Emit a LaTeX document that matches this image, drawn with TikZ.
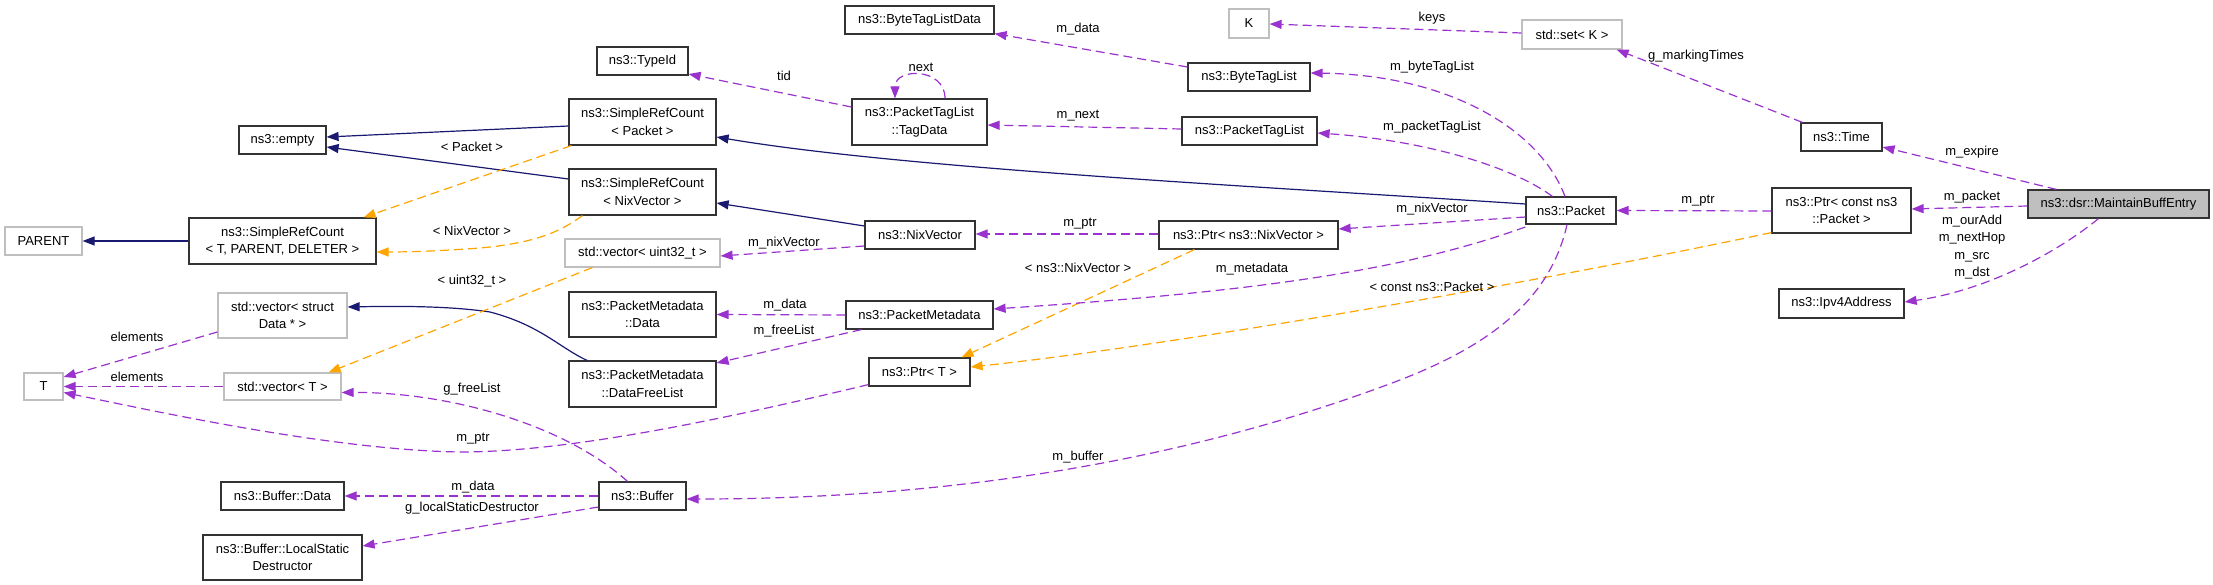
\documentclass[tikz,border=0pt]{standalone}
\usepackage{fontspec}
\setmainfont{Liberation Sans}
\usetikzlibrary{arrows.meta}
\definecolor{edgepurple}{HTML}{9A32CD}
\definecolor{edgeorange}{HTML}{FFA500}
\definecolor{edgeblue}{HTML}{191970}
\definecolor{boxgray}{HTML}{BFBFBF}
\begin{document}
\begin{tikzpicture}[x=1pt,y=-1pt,
  font=\fontsize{13}{17.3}\selectfont,
  cls/.style={draw=black!80, line width=1.2pt, inner sep=0pt, align=center, fill=white},
  undoc/.style={cls, draw=boxgray},
  cur/.style={cls, fill=boxgray},
  lab/.style={inner sep=0pt, align=center},
  tipA/.style={-{Triangle[length=12pt,width=9pt]}},
  usage/.style={draw=edgepurple, dash pattern=on 9pt off 5pt, line width=1.2pt, tipA},
  tmpl/.style={draw=edgeorange, dash pattern=on 9pt off 5pt, line width=1.2pt, tipA},
  inherit/.style={draw=edgeblue, line width=1.2pt, tipA}]
\useasboundingbox (0,0) rectangle (2213,585);

% ---- nodes ----
\node[undoc, minimum width=77pt, minimum height=28pt] (parent) at (43.5,241) {PARENT};
\node[cls, minimum width=87pt, minimum height=28pt] (empty) at (282.5,140) {ns3::empty};
\node[cls, minimum width=187pt, minimum height=46pt] (srcTPD) at (282.5,241) {ns3::SimpleRefCount\\< T, PARENT, DELETER >};
\node[undoc, minimum width=39pt, minimum height=27pt] (T) at (43.5,386.5) {T};
\node[undoc, minimum width=129pt, minimum height=45pt] (vecData) at (282.5,315.5) {std::vector< struct\\Data * >};
\node[undoc, minimum width=117pt, minimum height=27pt] (vecT) at (282.5,386.5) {std::vector< T >};
\node[cls, minimum width=123pt, minimum height=28pt] (bufData) at (282.5,496) {ns3::Buffer::Data};
\node[cls, minimum width=159pt, minimum height=45pt] (bufLSD) at (282.5,557.5) {ns3::Buffer::LocalStatic\\Destructor};
\node[cls, minimum width=91pt, minimum height=28pt] (typeId) at (642.5,61) {ns3::TypeId};
\node[cls, minimum width=147pt, minimum height=46pt] (srcPacket) at (642.5,122) {ns3::SimpleRefCount\\< Packet >};
\node[cls, minimum width=147pt, minimum height=46pt] (srcNix) at (642.5,192) {ns3::SimpleRefCount\\< NixVector >};
\node[undoc, minimum width=155pt, minimum height=28pt] (vecU32) at (642.5,253) {std::vector< uint32\_t >};
\node[cls, minimum width=147pt, minimum height=45pt] (pmData) at (642.5,314.5) {ns3::PacketMetadata\\::Data};
\node[cls, minimum width=147pt, minimum height=46pt] (pmDFL) at (642.5,384) {ns3::PacketMetadata\\::DataFreeList};
\node[cls, minimum width=87pt, minimum height=28pt] (buffer) at (642.5,496) {ns3::Buffer};
\node[cls, minimum width=149pt, minimum height=28pt] (btlData) at (919.5,20) {ns3::ByteTagListData};
\node[cls, minimum width=135pt, minimum height=46pt] (tagData) at (919.5,122) {ns3::PacketTagList\\::TagData};
\node[cls, minimum width=110pt, minimum height=28pt] (nixVector) at (920,235) {ns3::NixVector};
\node[cls, minimum width=147pt, minimum height=28pt] (pktMeta) at (919.5,315) {ns3::PacketMetadata};
\node[cls, minimum width=101pt, minimum height=28pt] (ptrT) at (919.5,372) {ns3::Ptr< T >};
\node[cls, minimum width=122pt, minimum height=28pt] (byteTL) at (1249,77) {ns3::ByteTagList};
\node[cls, minimum width=135pt, minimum height=28pt] (pktTL) at (1249.5,131) {ns3::PacketTagList};
\node[cls, minimum width=179pt, minimum height=28pt] (ptrNix) at (1248.5,235) {ns3::Ptr< ns3::NixVector >};
\node[undoc, minimum width=40pt, minimum height=29pt] (K) at (1249,23.5) {K};
\node[undoc, minimum width=100pt, minimum height=29pt] (setK) at (1572,34.5) {std::set< K >};
\node[cls, minimum width=90pt, minimum height=27pt] (packet) at (1571,210.5) {ns3::Packet};
\node[cls, minimum width=81pt, minimum height=28pt] (time) at (1841.5,137) {ns3::Time};
\node[cls, minimum width=139pt, minimum height=45pt] (ptrConst) at (1841.5,210.5) {ns3::Ptr< const ns3\\::Packet >};
\node[cls, minimum width=125pt, minimum height=29pt] (ipv4) at (1841.5,303.5) {ns3::Ipv4Address};
\node[cur, minimum width=181pt, minimum height=28pt] (mbe) at (2118.5,204) {ns3::dsr::MaintainBuffEntry};

% ---- inheritance ----
\draw[inherit] (srcTPD.west) -- (parent.east);
\draw[inherit] ([shift={(0,4)}]srcPacket.west) -- ([shift={(0,-3)}]empty.east);
\draw[inherit] ([shift={(0,-13)}]srcNix.west) -- ([shift={(0,7)}]empty.east);
\draw[inherit] ([shift={(0,-9)}]nixVector.west) -- ([shift={(0,11)}]srcNix.east);
\draw[inherit] ([shift={(0,-6.5)}]packet.west) .. controls (1250,186) and (900,168) .. ([shift={(0,15)}]srcPacket.east);
\draw[inherit] ([shift={(-55.5,0)}]pmDFL.north) .. controls (560,348) and (540,325) .. (490,312) .. controls (450,306) and (400,306) .. ([shift={(0,-8.5)}]vecData.east);

% ---- template instances ----
\draw[tmpl] ([shift={(3,0)}]srcPacket.south west) -- ([shift={(-13,0)}]srcTPD.north east);
\node[lab] (lPacket) at (472,147) {< Packet >};
\draw[tmpl] ([shift={(14,0)}]srcNix.south west) .. controls (560,232) and (535,243) .. (480,248) .. controls (440,251) and (410,252) .. ([shift={(0,11)}]srcTPD.east);
\node[lab] (lNix) at (472,231) {< NixVector >};
\draw[tmpl] ([shift={(28,0)}]vecU32.south west) -- ([shift={(-13,0)}]vecT.north east);
\node[lab] (lU32) at (472,281) {< uint32\_t >};
\draw[tmpl] ([shift={(36,0)}]ptrNix.south west) -- ([shift={(42,0)}]ptrT.north);
\node[lab] (lNsNix) at (1078,268) {< ns3::NixVector >};
\draw[tmpl] ([shift={(0,-1)}]ptrConst.south west) .. controls (1500,290) and (1150,348) .. ([shift={(0,-5)}]ptrT.east);
\node[lab] (lConst) at (1432,287) {< const ns3::Packet >};

% ---- usage ----
\draw[usage] ([shift={(0,16.5)}]vecData.west) -- ([shift={(0,-9.5)}]T.east);
\node[lab] (lEl1) at (137,337) {elements};
\draw[usage] (vecT.west) -- (T.east);
\node[lab] (lEl2) at (137,377) {elements};
\draw[usage] ([shift={(0,-2)}]ptrT.south west) .. controls (700,425) and (560,452) .. (460,452) .. controls (330,450) and (150,410) .. ([shift={(0,6)}]T.east);
\node[lab] (lPtrT) at (473,439) {m\_ptr};
\draw[usage] ([shift={(-15,0)}]buffer.north) .. controls (565,425) and (450,392) .. ([shift={(0,6)}]vecT.east);
\node[lab] (lFree) at (472,389) {g\_freeList};
\draw[usage] (buffer.west) -- (bufData.east);
\node[lab] (lBData) at (473,487) {m\_data};
\draw[usage] ([shift={(0,11)}]buffer.west) -- ([shift={(0,-11.5)}]bufLSD.east);
\node[lab] (lLSD) at (472,508) {g\_localStaticDestructor};
\draw[usage] ([shift={(0,-1.5)}]setK.west) -- ([shift={(0,0.5)}]K.east);
\node[lab] (lKeys) at (1432,18) {keys};
\draw[usage] ([shift={(2,0)}]time.north west) -- ([shift={(-6,0)}]setK.south east);
\node[lab] (lMark) at (1696,56) {g\_markingTimes};
\draw[usage] ([shift={(29,0)}]mbe.north west) -- ([shift={(0,10)}]time.east);
\node[lab] (lExp) at (1972,152) {m\_expire};
\draw[usage] ([shift={(0,2)}]mbe.west) -- ([shift={(0,-1.5)}]ptrConst.east);
\node[lab] (lPkt) at (1972,197) {m\_packet};
\draw[usage] ([shift={(-20,0)}]mbe.south) .. controls (2060,250) and (1990,290) .. ([shift={(0,-1.5)}]ipv4.east);
\node[lab] (lAddr) at (1972,247) {m\_ourAdd\\m\_nextHop\\m\_src\\m\_dst};
\draw[usage] ([shift={(0,0.5)}]ptrConst.west) -- (packet.east);
\node[lab] (lPtrP) at (1698,201) {m\_ptr};
\draw[usage] ([shift={(-6,0)}]packet.north) .. controls (1540,130) and (1450,75) .. ([shift={(0,-4)}]byteTL.east);
\node[lab] (lBTL) at (1432,67) {m\_byteTagList};
\draw[usage] ([shift={(27,0)}]packet.north west) .. controls (1510,165) and (1420,140) .. ([shift={(0,2)}]pktTL.east);
\node[lab] (lPTL) at (1432,127) {m\_packetTagList};
\draw[usage] ([shift={(0,6.5)}]packet.west) -- ([shift={(0,-6)}]ptrNix.east);
\node[lab] (lNixV) at (1432,209) {m\_nixVector};
\draw[usage] ([shift={(0,16.5)}]packet.west) .. controls (1400,272) and (1250,292) .. ([shift={(0,-6)}]pktMeta.east);
\node[lab] (lMeta) at (1252,269) {m\_metadata};
\draw[usage] ([shift={(-4,0)}]packet.south) .. controls (1550,300) and (1490,345) .. (1400,380) .. controls (1150,475) and (900,499) .. ([shift={(0,3)}]buffer.east);
\node[lab] (lBuf) at (1078,457) {m\_buffer};
\draw[usage] ([shift={(0,-10)}]byteTL.west) -- ([shift={(0,-1)}]btlData.south east);
\node[lab] (lBTLD) at (1078,29) {m\_data};
\draw[usage] ([shift={(0,-2)}]pktTL.west) -- ([shift={(0,3)}]tagData.east);
\node[lab] (lNext) at (1078,116) {m\_next};
\draw[usage] ([shift={(25.5,0)}]tagData.north) .. controls +(0,-31) and +(0,-31) .. ([shift={(-24.5,0)}]tagData.north);
\node[lab] (lSelf) at (921,67) {next};
\draw[usage] ([shift={(0,-15)}]tagData.west) -- ([shift={(0,13)}]typeId.east);
\node[lab] (lTid) at (784,76) {tid};
\draw[usage] ([shift={(0,-1)}]ptrNix.west) -- ([shift={(0,-1)}]nixVector.east);
\node[lab] (lPtrN) at (1080,224) {m\_ptr};
\draw[usage] ([shift={(0,11)}]nixVector.west) -- ([shift={(0,3)}]vecU32.east);
\node[lab] (lNixVec) at (784,243) {m\_nixVector};
\draw[usage] (pktMeta.west) -- (pmData.east);
\node[lab] (lPMD) at (785,305) {m\_data};
\draw[usage] ([shift={(16,0)}]pktMeta.south west) -- ([shift={(0,-21)}]pmDFL.east);
\node[lab] (lFL) at (784,331) {m\_freeList};
\end{tikzpicture}
\end{document}
